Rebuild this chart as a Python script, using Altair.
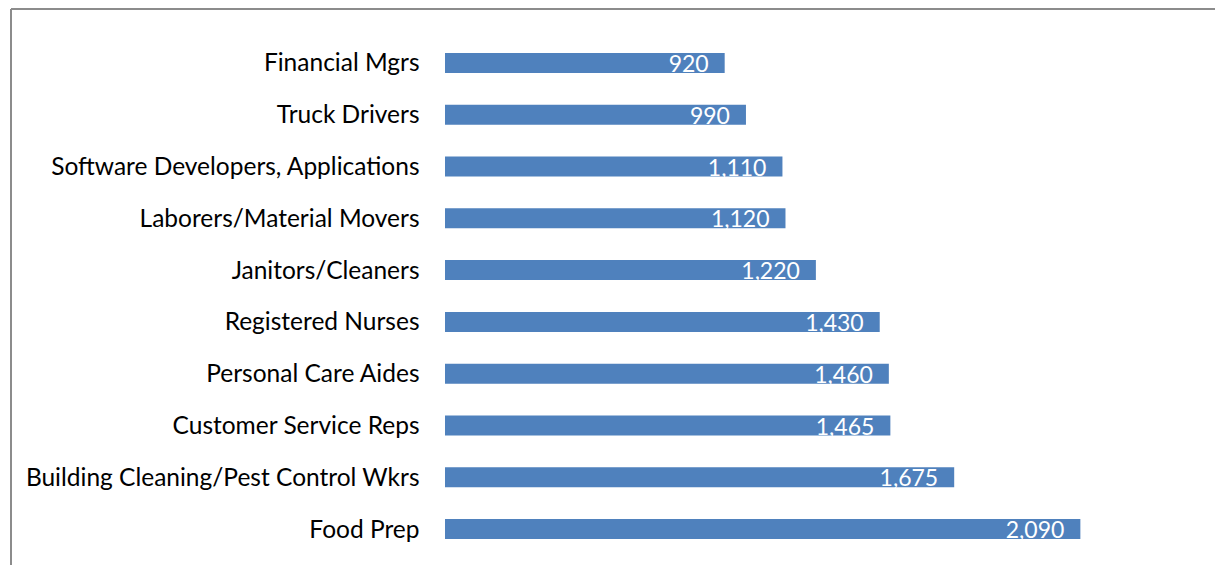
import altair as alt
import pandas as pd

categories = [
    "Financial Mgrs",
    "Truck Drivers",
    "Software Developers, Applications",
    "Laborers/Material Movers",
    "Janitors/Cleaners",
    "Registered Nurses",
    "Personal Care Aides",
    "Customer Service Reps",
    "Building Cleaning/Pest Control Wkrs",
    "Food Prep",
]
values = [920, 990, 1110, 1120, 1220, 1430, 1460, 1465, 1675, 2090]

df = pd.DataFrame({"cat": categories, "val": values})
df["label"] = df["val"].map(lambda v: f"{v:,}")

FONT = "Lato"

y_enc = alt.Y(
    "cat:N",
    sort=categories,
    title=None,
    scale=alt.Scale(paddingInner=0.614, paddingOuter=0.307),
    axis=alt.Axis(
        domain=False,
        ticks=False,
        labelFont=FONT,
        labelFontSize=24.5,
        labelColor="#000000",
        labelPadding=26,
        labelLimit=500,
        labelOffset=1.5,
    ),
)
x_enc = alt.X("val:Q", scale=alt.Scale(domain=[0, 2500], nice=False), axis=None)

bars = alt.Chart(df).mark_bar(color="#4F81BD").encode(x=x_enc, y=y_enc)

texts = alt.Chart(df).mark_text(
    align="right", baseline="middle", dx=-16, dy=2, color="white", font=FONT, fontSize=23
).encode(x=x_enc, y=alt.Y("cat:N", sort=categories), text="label:N")

frame_df = pd.DataFrame({"k": [0]})
top_line = alt.Chart(frame_df).mark_rule(color="#8c8c8c", strokeWidth=2).encode(
    x=alt.value(-434), x2=alt.value(900), y=alt.value(-28)
)
left_line = alt.Chart(frame_df).mark_rule(color="#8c8c8c", strokeWidth=2).encode(
    x=alt.value(-434), y=alt.value(-28), y2=alt.value(700)
)

chart = (
    alt.layer(bars, texts, top_line, left_line)
    .properties(
        width=760,
        height=518,
        autosize=alt.AutoSizeParams(type="none"),
        padding={"left": 437, "top": 29, "right": 10, "bottom": 10},
    )
    .configure_view(stroke=None)
)

chart.save("out.html", embed_options={"renderer": "svg", "actions": False})
